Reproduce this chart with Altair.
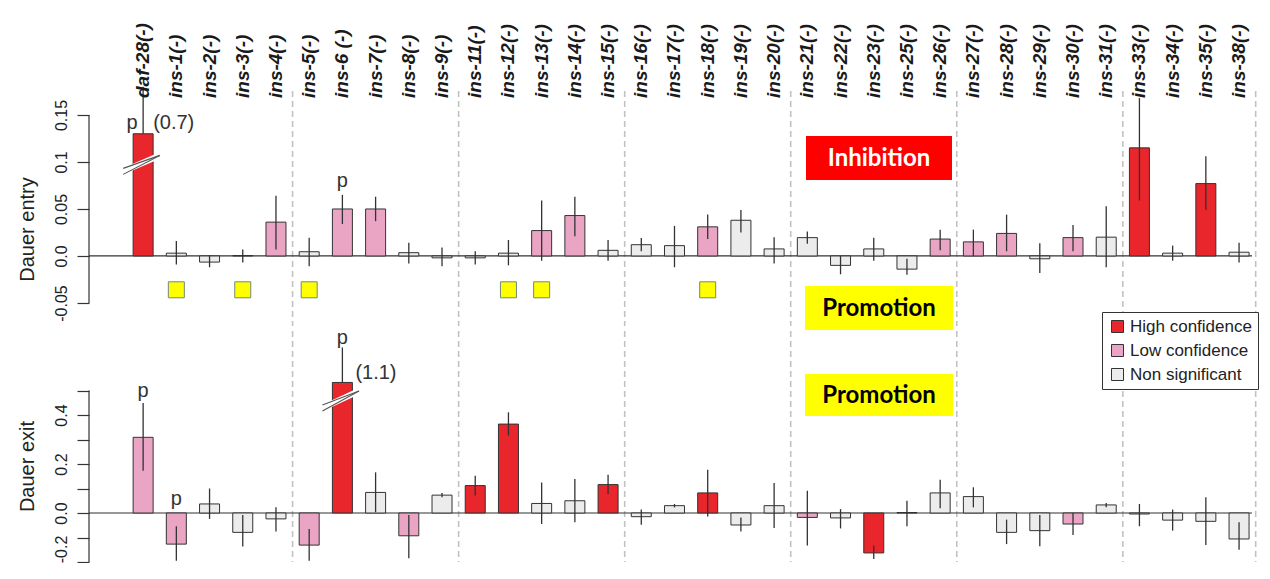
import altair as alt
import pandas as pd

# ---------------- data ----------------
genes = ["daf-28(-)", "ins-1(-)", "ins-2(-)", "ins-3(-)", "ins-4(-)",
         "ins-5(-)", "ins-6 (-)", "ins-7(-)", "ins-8(-)", "ins-9(-)",
         "ins-11(-)", "ins-12(-)", "ins-13(-)", "ins-14(-)", "ins-15(-)",
         "ins-16(-)", "ins-17(-)", "ins-18(-)", "ins-19(-)", "ins-20(-)",
         "ins-21(-)", "ins-22(-)", "ins-23(-)", "ins-25(-)", "ins-26(-)",
         "ins-27(-)", "ins-28(-)", "ins-29(-)", "ins-30(-)", "ins-31(-)",
         "ins-33(-)", "ins-34(-)", "ins-35(-)", "ins-38(-)"]
groups = [1] * 5 + [2] * 5 + [3] * 5 + [4] * 5 + [5] * 5 + [6] * 5 + [7] * 4

entry_val = [0.130, 0.003, -0.0065, 0.0005, 0.036, 0.0045, 0.050, 0.050, 0.0035, -0.002,
             -0.002, 0.003, 0.027, 0.043, 0.006, 0.012, 0.011, 0.031, 0.038, 0.0075,
             0.0195, -0.010, 0.0075, -0.014, 0.018, 0.015, 0.024, -0.003, 0.0195, 0.020,
             0.115, 0.003, 0.077, 0.004]
entry_lo = [0.130, -0.009, -0.012, -0.007, 0.007, -0.011, 0.034, 0.037, -0.008, -0.011,
            -0.009, -0.010, -0.005, 0.021, -0.005, 0.005, -0.012, 0.018, 0.025, -0.008,
            0.013, -0.0195, -0.005, -0.020, 0.006, 0.000, 0.005, -0.018, 0.005, -0.012,
            0.059, -0.005, 0.049, -0.007]
entry_hi = [0.180, 0.016, 0.001, 0.007, 0.064, 0.0195, 0.065, 0.063, 0.014, 0.009,
            0.005, 0.017, 0.059, 0.063, 0.017, 0.019, 0.032, 0.044, 0.049, 0.020,
            0.026, 0.000, 0.0195, -0.003, 0.028, 0.028, 0.044, 0.0135, 0.033, 0.053,
            0.168, 0.011, 0.106, 0.014]
entry_conf = ["H", "N", "N", "N", "L", "N", "L", "L", "N", "N",
              "N", "N", "L", "L", "N", "N", "N", "L", "N", "N",
              "N", "N", "N", "N", "L", "L", "L", "N", "L", "N",
              "H", "N", "H", "N"]

exit_val = [0.309, -0.127, 0.037, -0.079, -0.024, -0.131, 0.533, 0.084, -0.093, 0.073,
            0.112, 0.363, 0.039, 0.050, 0.116, -0.015, 0.030, 0.082, -0.049, 0.030,
            -0.018, -0.020, -0.163, 0.002, 0.082, 0.067, -0.079, -0.072, -0.045, 0.033,
            -0.004, -0.029, -0.034, -0.106]
exit_lo = [0.173, -0.195, -0.024, -0.137, -0.076, -0.195, 0.533, 0.003, -0.185, 0.064,
           0.071, 0.316, -0.045, -0.038, 0.078, -0.048, 0.023, -0.014, -0.076, -0.061,
           -0.133, -0.063, -0.188, -0.054, 0.019, 0.023, -0.127, -0.136, -0.090, 0.023,
           -0.054, -0.072, -0.131, -0.150]
exit_hi = [0.449, -0.054, 0.100, -0.008, 0.023, -0.065, 0.676, 0.166, -0.008, 0.082,
           0.152, 0.411, 0.125, 0.139, 0.156, 0.014, 0.037, 0.177, -0.018, 0.122,
           0.091, 0.016, -0.133, 0.050, 0.136, 0.105, -0.027, -0.008, 0.000, 0.041,
           0.037, 0.014, 0.064, -0.038]
exit_conf = ["L", "L", "N", "N", "N", "L", "H", "N", "L", "N",
             "H", "H", "N", "N", "H", "N", "N", "H", "N", "N",
             "L", "N", "H", "N", "N", "N", "N", "N", "L", "N",
             "N", "N", "N", "N"]

yellow_genes = ["ins-1(-)", "ins-3(-)", "ins-5(-)", "ins-12(-)", "ins-13(-)", "ins-18(-)"]
yellow_level = -0.036

conf_names = {"H": "High confidence", "L": "Low confidence", "N": "Non significant"}
conf_order = ["High confidence", "Low confidence", "Non significant"]
conf_colors = ["#e8262b", "#eba5c4", "#ececec"]

# broken-bar marks (gene, lower y, upper y)
entry_break = ("daf-28(-)", 0.090, 0.107)
exit_break = ("ins-6 (-)", 0.429, 0.498)

# ---------------- helpers ----------------
FONT = "Liberation Sans"
INK = "#333333"
W = 1166
xs = alt.Scale(domain=[-1.63, 33.48], nice=False, zero=False, padding=0)

idx = list(range(len(genes)))


def make_df(vals, los, his, confs):
    return pd.DataFrame({"gene": genes, "idx": idx, "val": vals, "lo": los, "hi": his,
                         "conf": [conf_names[c] for c in confs]})


sep_pos = [i + 0.5 for i in range(len(groups) - 1) if groups[i] != groups[i + 1]] + [len(genes) - 0.5]
sep_df = pd.DataFrame({"pos": sep_pos})

legend = alt.Legend(orient="none", legendX=1013, legendY=221, title=None,
                    symbolType="square", symbolSize=144, symbolStrokeColor=INK,
                    symbolStrokeWidth=1, symbolOpacity=1, labelFont=FONT, labelFontSize=17,
                    labelColor="#222", strokeColor=INK, fillColor="white", padding=6,
                    rowPadding=6, symbolOffset=1, labelOffset=4)
color = alt.Color("conf:N", scale=alt.Scale(domain=conf_order, range=conf_colors), legend=legend)


def box(text, x1, x2, y1, y2, fill, tcolor):
    r = alt.Chart(pd.DataFrame({"t": [text]})).mark_rect(color=fill).encode(
        x=alt.value(x1), x2=alt.value(x2), y=alt.value(y1), y2=alt.value(y2))
    t = alt.Chart(pd.DataFrame({"t": [text]})).mark_text(
        font="Lato", fontWeight="bold", fontSize=24, color=tcolor, align="center", baseline="middle"
    ).encode(x=alt.value((x1 + x2) / 2), y=alt.value((y1 + y2) / 2 + 1), text="t:N")
    return [r, t]


def panel(df, ydom, height, ax, sep_bottom, bracket, brk, notes, boxes, yellow=False, labels=False):
    ys = alt.Scale(domain=ydom, nice=False, zero=False, padding=0)

    def X(f):
        return alt.X(f, type="quantitative", scale=xs, axis=None)

    def Y(f):
        return alt.Y(f, type="quantitative", scale=ys, axis=ax)

    layers = []
    layers.append(alt.Chart(sep_df).mark_rule(color="#c2c2c2", strokeDash=[6, 4], strokeWidth=1.6).encode(
        x=X("pos"), y=alt.value(0), y2=alt.value(sep_bottom)))
    layers.append(alt.Chart(pd.DataFrame({"a": [bracket[0]], "b": [bracket[1]]})).mark_rule(
        color=INK, strokeWidth=1.2).encode(x=alt.value(0), y=Y("a"), y2=alt.Y2("b")))
    layers.append(alt.Chart(pd.DataFrame({"z": [0.0]})).mark_rule(color=INK, strokeWidth=1.2).encode(
        x=alt.value(0), x2=alt.value(W - 3), y=Y("z")))
    layers.append(alt.Chart(df).mark_bar(size=20, stroke=INK, strokeWidth=1).encode(
        x=X("idx"), y=Y("val"), y2=alt.datum(0), color=color))
    layers.append(alt.Chart(df).mark_rule(color=INK, strokeWidth=1.3).encode(
        x=X("idx"), y=Y("lo"), y2=alt.Y2("hi")))
    bdf = pd.DataFrame({"idx": [genes.index(brk[0])], "y1": [brk[1]], "y2": [brk[2]]})
    bchart = alt.Chart(bdf).transform_calculate(xa="datum.idx - 0.6", xb="datum.idx + 0.5")
    layers.append(bchart.mark_rule(color="white", strokeWidth=6).encode(
        x=X("xa:Q"), x2=alt.X2("xb:Q"), y=Y("y1"), y2=alt.Y2("y2")))
    for off in (-3, 3):
        layers.append(bchart.mark_rule(color="#555", strokeWidth=1.1, yOffset=off).encode(
            x=X("xa:Q"), x2=alt.X2("xb:Q"), y=Y("y1"), y2=alt.Y2("y2")))
    if yellow:
        ydf = pd.DataFrame({"idx": [genes.index(g) for g in yellow_genes],
                            "y": [yellow_level] * len(yellow_genes)})
        layers.append(alt.Chart(ydf).mark_square(size=256, fill="#ffff00", stroke="#6f8a78",
                                                 strokeWidth=1, opacity=1).encode(x=X("idx"), y=Y("y")))
    for g, txt, yv, dx, align in notes:
        ndf = pd.DataFrame({"idx": [genes.index(g)], "y": [yv], "t": [txt]})
        layers.append(alt.Chart(ndf).mark_text(font=FONT, fontSize=20, color=INK, dx=dx, align=align,
                                               baseline="middle").encode(x=X("idx"), y=Y("y"), text="t:N"))
    if labels:
        layers.append(alt.Chart(df).mark_text(angle=270, align="left", baseline="middle", font=FONT,
                                              fontSize=19, fontStyle="italic", fontWeight="bold",
                                              color="#1a1a1a").encode(x=X("idx"), y=alt.value(7), text="gene:N"))
    for b in boxes:
        layers.extend(box(*b))
    return alt.layer(*layers).properties(width=W, height=height)


entry_axis = alt.Axis(values=[-0.05, 0, 0.05, 0.1, 0.15],
                      labelExpr="datum.value == 0 ? '0.0' : toString(datum.value)",
                      labelAngle=270, labelAlign="center", labelBaseline="bottom",
                      labelFont=FONT, labelFontSize=16, labelColor="#222", labelPadding=8,
                      tickSize=12, tickColor=INK, tickWidth=1.2, domain=False, grid=False,
                      title="Dauer entry", titleFont=FONT, titleFontSize=20, titleFontWeight="normal",
                      titleColor="#222", titleAngle=270, titleX=-56, titleY=138,
                      titleBaseline="alphabetic", titleAlign="center")
exit_axis = alt.Axis(values=[-0.2, -0.1, 0, 0.1, 0.2, 0.3, 0.4, 0.5],
                     labelExpr="datum.value == 0 ? '0.0' : (abs(round(datum.value * 10)) % 2 == 0 ? toString(datum.value) : '')",
                     labelOffset={"condition": {"test": "datum.value < -0.15", "value": -13}, "value": 0},
                     labelAngle=270, labelAlign="center", labelBaseline="bottom",
                     labelFont=FONT, labelFontSize=16, labelColor="#222", labelPadding=8,
                     tickSize=12, tickColor=INK, tickWidth=1.2, domain=False, grid=False,
                     title="Dauer exit", titleFont=FONT, titleFontSize=20, titleFontWeight="normal",
                     titleColor="#222", titleAngle=270, titleX=-56, titleY=135,
                     titleBaseline="alphabetic", titleAlign="center")

top = panel(make_df(entry_val, entry_lo, entry_hi, entry_conf), [-0.0745, 0.1755], 235, entry_axis,
            235, (-0.05, 0.15), entry_break,
            [("daf-28(-)", "p", 0.1415, -11, "center"), ("daf-28(-)", "(0.7)", 0.1415, 10, "left"),
             ("ins-6 (-)", "p", 0.080, 0, "center")],
            [("Inhibition", 717, 863, 45, 89, "#ff0000", "white"),
             ("Promotion", 716, 864, 195, 239, "#ffff00", "black")],
            yellow=True, labels=True)

bottom = panel(make_df(exit_val, exit_lo, exit_hi, exit_conf), [-0.2, 0.743], 231, exit_axis,
               231, (-0.2, 0.5), exit_break,
               [("daf-28(-)", "p", 0.498, 0, "center"), ("ins-1(-)", "p", 0.057, 0, "center"),
                ("ins-6 (-)", "p", 0.714, 0, "center"), ("ins-6 (-)", "(1.1)", 0.571, 13, "left")],
               [("Promotion", 716, 864, 43, 85, "#ffff00", "black")])

chart = alt.vconcat(top, bottom, spacing=5, bounds="flush").properties(
    padding={"left": 9, "top": 15, "right": 0, "bottom": 0}
).configure(background="white").configure_view(stroke=None)

chart.save("out.html", embed_options={"renderer": "svg", "actions": False})
